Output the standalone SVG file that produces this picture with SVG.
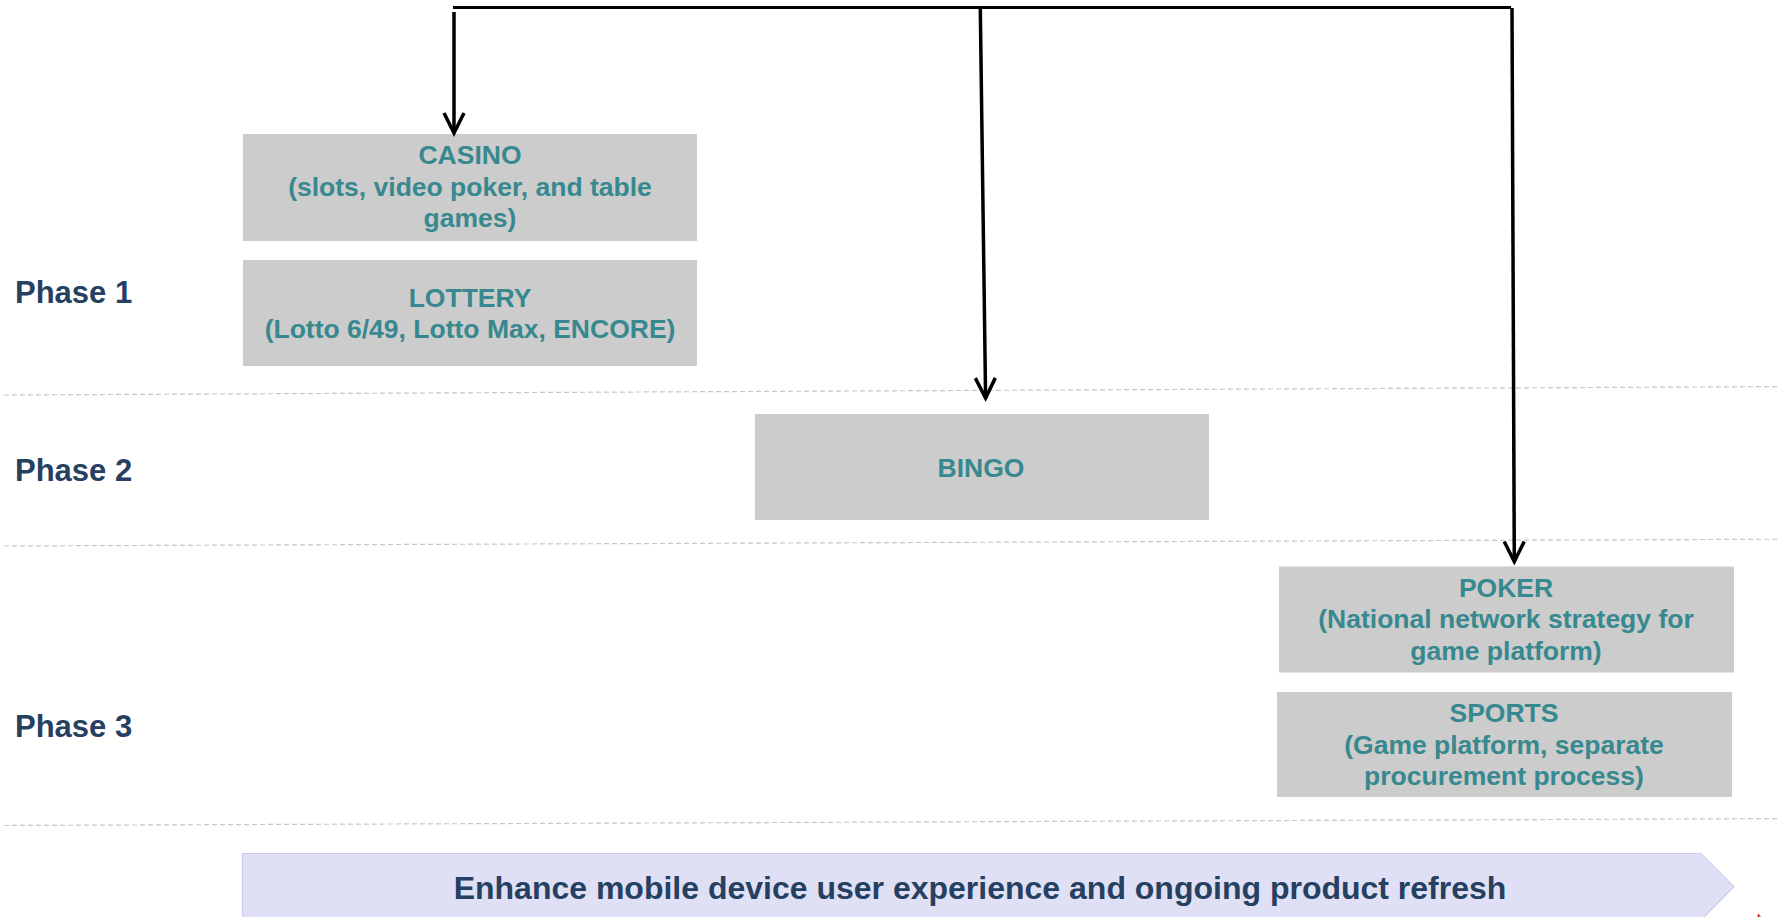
<svg xmlns="http://www.w3.org/2000/svg" width="1788" height="917" viewBox="0 0 1788 917">
  <style>
    .box { fill: #cccccc; }
    .lbl { font-family: "Liberation Sans", Arial, sans-serif; font-weight: bold; font-size: 26.5px; fill: #37898f; text-anchor: middle; }
    .phase { font-family: "Liberation Sans", Arial, sans-serif; font-weight: bold; font-size: 31px; fill: #254061; }
    .sep { stroke: #c8c8c8; stroke-width: 1.2; stroke-dasharray: 5 3; fill: none; }
    .wire { stroke: #000000; fill: none; }
    .banner { fill: #dfe0f5; stroke: #cbcced; stroke-width: 1.2; }
    .bannertext { font-family: "Liberation Sans", Arial, sans-serif; font-weight: bold; font-size: 32px; fill: #254061; text-anchor: middle; }
  </style>
  <defs>
    <marker id="vee" markerUnits="userSpaceOnUse" orient="auto" refX="0" refY="0" markerWidth="30" markerHeight="30" viewBox="-25 -15 30 30" overflow="visible">
      <path d="M -20 -10 L 0 0 L -20 10" fill="none" stroke="#000000" stroke-width="3.5"/>
    </marker>
  </defs>

  <rect width="1788" height="917" fill="#ffffff"/>

  <!-- phase separators -->
  <g id="separators">
    <line class="sep" x1="4" y1="395" x2="1780" y2="386.6"/>
    <line class="sep" x1="4" y1="546" x2="1780" y2="539.2"/>
    <line class="sep" x1="4" y1="825.5" x2="1780" y2="818.6"/>
  </g>

  <!-- phase labels -->
  <g id="phase-labels">
    <text id="phase1" class="phase" x="15" y="303">Phase 1</text>
    <text id="phase2" class="phase" x="15" y="481">Phase 2</text>
    <text id="phase3" class="phase" x="15" y="737">Phase 3</text>
  </g>

  <!-- product nodes -->
  <g id="casino">
    <rect class="box" x="243" y="134" width="454" height="107"/>
    <text class="lbl" x="470" y="164">CASINO</text>
    <text class="lbl" x="470" y="195.5">(slots, video poker, and table</text>
    <text class="lbl" x="470" y="227">games)</text>
  </g>
  <g id="lottery">
    <rect class="box" x="243" y="260" width="454" height="106"/>
    <text class="lbl" x="470" y="306.5">LOTTERY</text>
    <text class="lbl" x="470" y="338">(Lotto 6/49, Lotto Max, ENCORE)</text>
  </g>
  <g id="bingo">
    <rect class="box" x="755" y="414" width="454" height="106"/>
    <text class="lbl" x="981" y="476.5">BINGO</text>
  </g>
  <g id="poker">
    <rect class="box" x="1279" y="566.5" width="455" height="106"/>
    <text class="lbl" x="1506" y="596.5">POKER</text>
    <text class="lbl" x="1506" y="628">(National network strategy for</text>
    <text class="lbl" x="1506" y="659.5">game platform)</text>
  </g>
  <g id="sports">
    <rect class="box" x="1277" y="692" width="455" height="105"/>
    <text class="lbl" x="1504" y="722">SPORTS</text>
    <text class="lbl" x="1504" y="753.5">(Game platform, separate</text>
    <text class="lbl" x="1504" y="785">procurement process)</text>
  </g>

  <!-- ongoing workstream banner -->
  <g id="mobile-banner">
    <path class="banner" d="M 242.5 853.5 L 1701 853.5 L 1734 886.7 L 1701 920 L 242.5 920 Z"/>
    <text class="bannertext" x="980" y="898.5">Enhance mobile device user experience and ongoing product refresh</text>
  </g>

  <!-- connectors -->
  <g id="connectors">
    <line class="wire" x1="453" y1="7.5" x2="1511" y2="7.5" stroke-width="3"/>
    <line class="wire" x1="454" y1="12" x2="454" y2="133" stroke-width="3.5" marker-end="url(#vee)"/>
    <line class="wire" x1="980.3" y1="9" x2="985.6" y2="398" stroke-width="3.5" marker-end="url(#vee)"/>
    <line class="wire" x1="1512" y1="8" x2="1514.3" y2="561.5" stroke-width="3.5" marker-end="url(#vee)"/>
  </g>

  <!-- small red mark at lower right corner -->
  <path d="M 1758 913 L 1761 917 L 1757.5 917 Z" fill="#d23a3a"/>
</svg>
